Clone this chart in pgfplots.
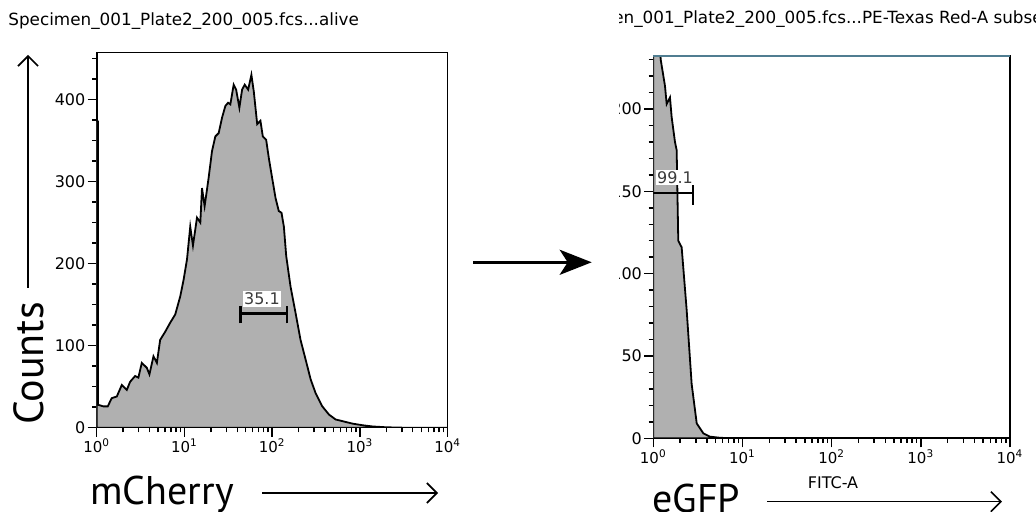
\documentclass[border=0pt]{standalone}
\usepackage{fontspec}
\setmainfont{DejaVu Sans}
\newfontfamily\bigf{PT Sans}
\usepackage{pgfplots}
\pgfplotsset{compat=1.18}
\usetikzlibrary{arrows.meta}
\definecolor{histgray}{RGB}{176,176,176}
\definecolor{tealline}{RGB}{80,125,145}
\definecolor{gatetext}{RGB}{60,60,60}

\pgfplotsset{
  flow/.style={
    scale only axis,
    clip mode=individual,
    xmin=0, xmax=4,
    axis line style={line width=0.8pt},
    tick style={black, line width=0.7pt},
    tick align=outside,
    xtick pos=left, ytick pos=left,
    major tick length=4.5pt, minor tick length=2.3pt,
    xtick={0,1,2,3,4},
    xticklabels={10\textsuperscript{0},10\textsuperscript{1},10\textsuperscript{2},10\textsuperscript{3},10\textsuperscript{4}},
    minor xtick={0.301,0.477,0.602,0.699,0.778,0.845,0.903,0.954,
                 1.301,1.477,1.602,1.699,1.778,1.845,1.903,1.954,
                 2.301,2.477,2.602,2.699,2.778,2.845,2.903,2.954,
                 3.301,3.477,3.602,3.699,3.778,3.845,3.903,3.954},
    tick label style={font=\fontsize{8}{9}\selectfont, text=black},
    xticklabel style={font=\fontsize{7.5}{9}\selectfont, inner sep=1pt},
    yticklabel style={inner sep=1pt},
    /pgf/number format/assume math mode=true,
  }
}

\begin{document}
\begin{tikzpicture}[x=0.5pt,y=0.5pt]
\useasboundingbox (0,0) rectangle (1036,512);

% ---------------- left panel ----------------
\node[anchor=base west, inner sep=0pt, font=\fontsize{8.4}{10}\selectfont] at (8,486) {Specimen\_001\_Plate2\_200\_005.fcs...alive};

\begin{axis}[flow, at={(48.35pt,42.15pt)}, anchor=south west,
  width=175.5pt, height=187.5pt,
  ymin=0, ymax=457,
  ytick={0,100,200,300,400},
  minor ytick={25,50,75,125,150,175,225,250,275,325,350,375,425,450}]
\addplot[fill=histgray, draw=black, line width=0.9pt] coordinates {
(0,0) (0,373) (0.014,373) (0.014,28) (0.075,26) (0.126,26) (0.171,36) (0.229,38)
(0.286,52) (0.343,46) (0.381,56) (0.438,63) (0.475,61) (0.514,79) (0.571,73) (0.601,65)
(0.647,87) (0.686,79) (0.723,107) (0.781,117) (0.838,128) (0.895,138) (0.952,160) (0.990,180)
(1.029,205) (1.066,245) (1.097,222) (1.143,256) (1.181,250) (1.200,292) (1.230,270) (1.275,304)
(1.314,337) (1.352,355) (1.390,359) (1.429,378) (1.466,392) (1.497,396) (1.523,394) (1.561,418)
(1.589,412) (1.626,390) (1.657,412) (1.687,418) (1.726,412) (1.763,430) (1.790,410) (1.829,370)
(1.866,374) (1.893,355) (1.931,351) (1.961,329) (2.000,304) (2.038,280) (2.075,264) (2.106,262)
(2.133,245) (2.160,209) (2.209,172) (2.266,140) (2.323,107) (2.381,83) (2.438,59) (2.495,42)
(2.571,26) (2.647,16) (2.723,10) (2.800,8) (2.914,5) (3.029,3) (3.143,1.5) (3.300,0.5)
(3.5,0) (4,0)} \closedcycle;
% gate 35.1
\addplot[black, line width=1.5pt] coordinates {(1.638,139.3) (2.171,139.3)};
\addplot[black, line width=1.1pt] coordinates {(1.638,127) (1.638,148)};
\addplot[black, line width=1.1pt] coordinates {(2.171,127) (2.171,148)};
\node[fill=white, inner sep=0.8pt, text=gatetext, font=\fontsize{8}{9}\selectfont] at (axis cs:1.883,157) {35.1};
\end{axis}

% axis labels left
\node[rotate=90, anchor=base, inner sep=0pt, font=\bigf\fontsize{21}{24}\selectfont] at (43,148.5) {Counts};
\draw[line width=0.8pt, -{Straight Barb[length=5pt,width=10pt,line width=0.8pt]}] (28,224) -- (28,457);
\node[anchor=base west, inner sep=0pt, font=\bigf\fontsize{20}{24}\selectfont] at (90,7) {mCherry};
\draw[line width=0.8pt, -{Straight Barb[length=5pt,width=10pt,line width=0.8pt]}] (262,19) -- (438,19);

% middle arrow
\draw[line width=1.6pt, -{Stealth[length=16pt,width=12.5pt,inset=4pt]}] (473.3,249.7) -- (591.7,249.7);

% ---------------- right panel ----------------
\begin{scope}
\clip (619,-20) rectangle (1040,520);
\node[anchor=base west, inner sep=0pt, font=\fontsize{8.4}{10}\selectfont] at (551,488) {Specimen\_001\_Plate2\_200\_005.fcs...PE-Texas Red-A subset};

\begin{axis}[flow, at={(326.65pt,36.85pt)}, anchor=south west,
  width=178.35pt, height=191.3pt,
  ymin=0, ymax=232.4,
  ytick={0,50,100,150,200},
  minor ytick={10,20,30,40,60,70,80,90,110,120,130,140,160,170,180,190,210,220,230}]
\addplot[fill=histgray, draw=black, line width=0.9pt] coordinates {
(0,0) (0,240) (0.075,238) (0.083,230) (0.131,214) (0.150,203) (0.187,207) (0.206,195)
(0.243,180) (0.262,175) (0.280,120) (0.318,116) (0.374,78) (0.430,33) (0.487,9)
(0.561,3) (0.636,1) (0.75,0.3) (0.9,0) (4,0)} \closedcycle;
% gate 99.1
\addplot[black, line width=1.3pt] coordinates {(0,149) (0.441,149)};
\addplot[black, line width=1.1pt] coordinates {(0.441,142) (0.441,156)};
\node[fill=white, inner sep=0.8pt, text=gatetext, font=\fontsize{8}{9}\selectfont] at (axis cs:0.243,158.4) {99.1};
\draw[tealline, line width=0.9pt] (rel axis cs:0,1) -- (rel axis cs:1,1);
\end{axis}

\node[anchor=base west, inner sep=0pt, font=\bigf\fontsize{20}{24}\selectfont] at (652,-1) {eGFP};
\draw[line width=0.8pt, -{Straight Barb[length=5pt,width=10pt,line width=0.8pt]}] (767,10.3) -- (1002,10.3);
\node[font=\fontsize{8}{9}\selectfont] at (833,29.5) {FITC-A};
\end{scope}
\end{tikzpicture}
\end{document}
